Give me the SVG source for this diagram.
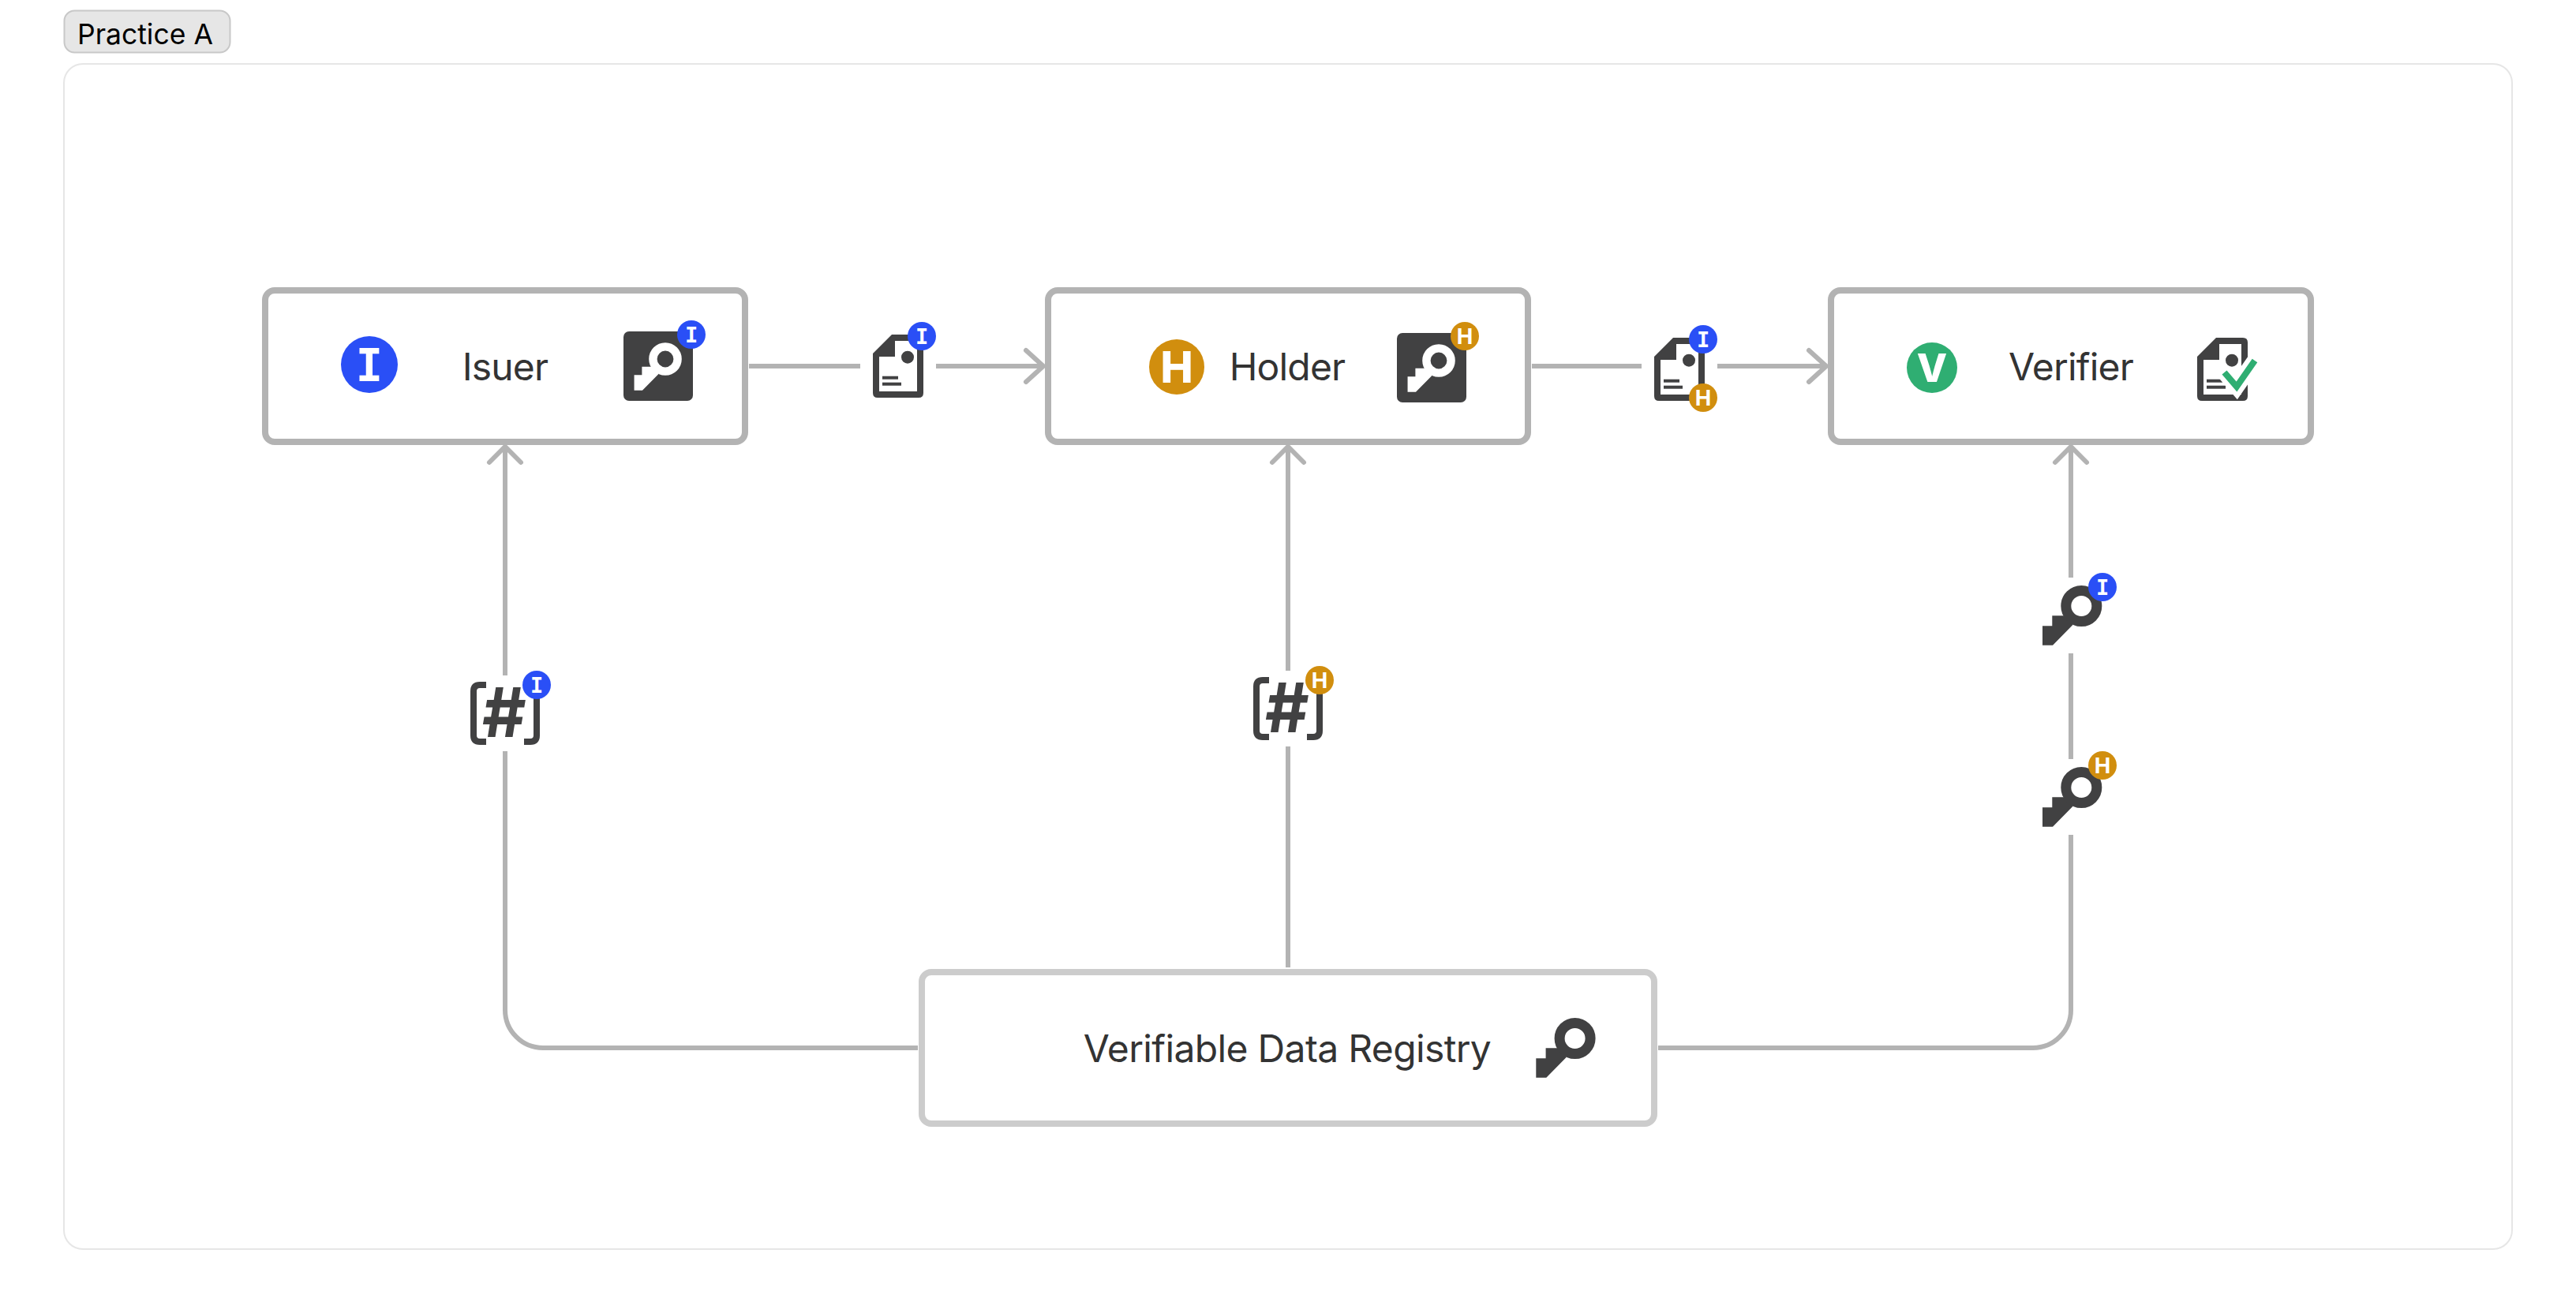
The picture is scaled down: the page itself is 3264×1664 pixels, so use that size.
<svg xmlns="http://www.w3.org/2000/svg" xmlns:xlink="http://www.w3.org/1999/xlink" width="3264" height="1664" viewBox="0 0 3264 1664">
<style>
.node{fill:#fff;stroke:#b3b3b3;stroke-width:8}
.reg{fill:#fff;stroke:#ccc;stroke-width:8}
.lbl{font-family:"Inter","Liberation Sans",sans-serif;font-size:48px;fill:#333;text-anchor:middle;letter-spacing:-.8px}
.lt{font-family:"Inter","Liberation Sans",sans-serif;font-weight:700;fill:#fff;text-anchor:middle}
.big{font-weight:800}
.sl{font-family:"DejaVu Sans Mono",monospace;font-weight:700;fill:#fff;text-anchor:middle}
.conn{fill:none;stroke:#b3b3b3;stroke-width:6;stroke-linecap:butt}
.head{fill:none;stroke:#b3b3b3;stroke-width:6;stroke-linecap:round;stroke-linejoin:miter}
.dark{fill:#414142}
.blue{fill:#2a4ff6}.gold{fill:#d18e0e}.green{fill:#2fae72}
</style>
<defs>
<g id="key"><path d="M-49.3 49.7V25.3H-37V12.3H-22L-14 14L-11 24L-36.3 49.7Z" fill="currentColor"/><circle r="19.5" fill="none" stroke="currentColor" stroke-width="13"/></g>
<g id="keybox"><rect width="88" height="88" rx="7" class="dark"/><use href="#key" x="0" y="0" transform="translate(53 35) scale(.8)" color="#fff"/></g>
<path id="docback" class="dark" d="M0 24L24 0H58Q64 0 64 6V74Q64 80 58 80H6Q0 80 0 74Z"/>
<g id="doc"><use href="#docback"/><path fill="#fff" d="M8 28H28V8H56V72H8Z"/><circle cx="44" cy="28.7" r="8" class="dark"/><rect x="12" y="52.7" width="20" height="4" class="dark"/><rect x="12" y="60.7" width="24" height="4" class="dark"/></g>
<g id="hash"><path d="M20 4H12Q4 4 4 12V68Q4 76 12 76H20M68 4H76Q84 4 84 12V68Q84 76 76 76H68" fill="none" stroke="#414142" stroke-width="8"/><text x="43" y="70" font-family="Inter,'Liberation Sans',sans-serif" font-weight="650" font-size="86" text-anchor="middle" fill="#414142">#</text></g>
<g id="badgeI"><circle r="18" class="blue"/><text class="sl" y="10" font-size="27">I</text></g>
<g id="badgeH"><circle r="18" class="gold"/><text class="lt" y="10" font-size="27.5">H</text></g>
</defs>
<rect width="3264" height="1664" fill="#fff"/>
<g id="frame"><rect x="81" y="81" width="3102" height="1502" rx="24" fill="#fff" stroke="#e6e6e6" stroke-width="2"/></g>
<g id="tab"><rect x="81.5" y="13.5" width="210" height="53" rx="13" fill="#e6e6e6" stroke="#c8c8c8" stroke-width="2"/><text x="98" y="56" font-family="Inter,'Liberation Sans',sans-serif" font-size="35.5" fill="#000">Practice A</text></g>
<g id="connectors">
<path class="conn" d="M949 464H1090M1186 464H1320"/><path class="head" d="M1300 444L1322 464L1300 484"/>
<path class="conn" d="M1941 464H2080M2176 464H2312"/><path class="head" d="M2292 444L2314 464L2292 484"/>
<path class="conn" d="M1163 1328H688A48 48 0 0 1 640 1280V952M640 856V570"/><path class="head" d="M620 586L640 566L660 586"/>
<path class="conn" d="M1632 1226V946M1632 850V570"/><path class="head" d="M1612 586L1632 566L1652 586"/>
<path class="conn" d="M2101 1328H2576A48 48 0 0 0 2624 1280V1058M2624 962V828M2624 732V570"/><path class="head" d="M2604 586L2624 566L2644 586"/>
</g>
<g id="issuer"><rect class="node" x="336" y="368" width="608" height="192" rx="12"/><circle cx="468" cy="462" r="36" class="blue"/><text class="sl" x="468" y="483" font-size="57">I</text><text class="lbl" x="640" y="481.7">Isuer</text><use href="#keybox" x="790" y="420"/><use href="#badgeI" x="876" y="424"/></g>
<g id="holder"><rect class="node" x="1328" y="368" width="608" height="192" rx="12"/><circle cx="1491" cy="465" r="35" class="gold"/><text class="lt big" x="1491" y="485" font-size="55">H</text><text class="lbl" x="1631" y="481.7">Holder</text><use href="#keybox" x="1770" y="422"/><use href="#badgeH" x="1856" y="426"/></g>
<g id="verifier"><rect class="node" x="2320" y="368" width="608" height="192" rx="12"/><circle cx="2448" cy="466" r="32" class="green"/><text class="lt big" x="2448" y="484.3" font-size="50">V</text><text class="lbl" x="2624" y="481.7">Verifier</text><use href="#doc" x="2784" y="428"/><path d="M2818.5 472L2834 490L2857 457" fill="none" stroke="#fff" stroke-width="20"/><path d="M2818.5 472L2834 490L2857 457" fill="none" stroke="#2fae72" stroke-width="8"/></g>
<g id="registry"><rect class="reg" x="1168" y="1232" width="928" height="192" rx="12"/><text class="lbl" style="letter-spacing:-.65px" x="1631" y="1345.7">Verifiable Data Registry</text><use href="#key" x="1995.6" y="1316" color="#414142"/></g>
<g id="credential-issuer"><use href="#doc" x="1106" y="424"/><use href="#badgeI" x="1168" y="426"/></g>
<g id="presentation"><use href="#doc" x="2096" y="428"/><use href="#badgeI" x="2158" y="430"/><use href="#badgeH" x="2158" y="504"/></g>
<g id="did-issuer"><use href="#hash" x="596" y="864"/><use href="#badgeI" x="680" y="868"/></g>
<g id="did-holder"><use href="#hash" x="1588" y="858"/><use href="#badgeH" x="1672" y="862"/></g>
<g id="key-issuer"><use href="#key" x="2637.3" y="768" color="#414142"/><use href="#badgeI" x="2664" y="744"/></g>
<g id="key-holder"><use href="#key" x="2637.3" y="998" color="#414142"/><use href="#badgeH" x="2664" y="970"/></g>
</svg>
